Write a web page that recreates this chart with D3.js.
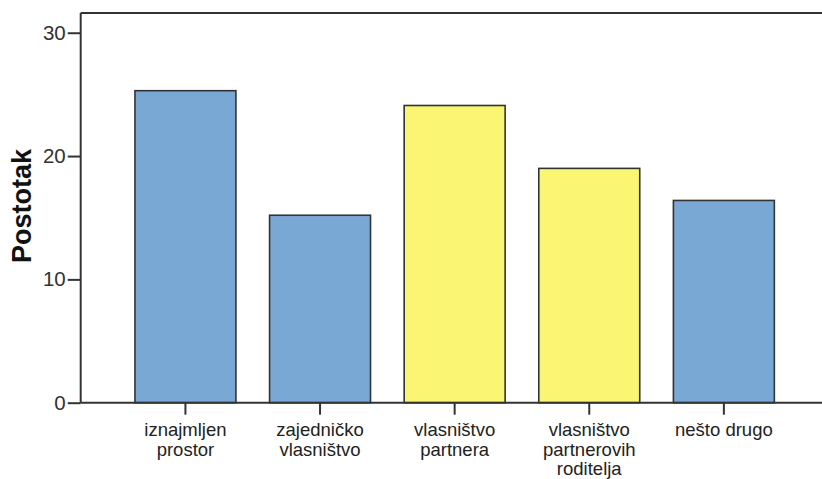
<!DOCTYPE html>
<html>
<head>
<meta charset="utf-8">
<script src="https://cdn.jsdelivr.net/npm/d3@7"></script>
<style>
  html, body { margin: 0; padding: 0; background: #ffffff; }
  svg { display: block; }
</style>
</head>
<body>
<svg id="chart" width="822" height="479"></svg>
<script>
// ---- data ----
const categories = [
  "iznajmljen\nprostor",
  "zajedničko\nvlasništvo",
  "vlasništvo\npartnera",
  "vlasništvo\npartnerovih\nroditelja",
  "nešto drugo"
];
const values = [25.3, 15.2, 24.1, 19.0, 16.4];
const barColors = ["#7aa8d4", "#7aa8d4", "#faf673", "#faf673", "#7aa8d4"];
const yTicks = [0, 10, 20, 30];
const yTitle = "Postotak";

// ---- layout ----
const svg = d3.select("#chart");
const plotLeft = 80.7, plotRight = 828.6, plotTop = 13, plotBottom = 402.7;

const x = d3.scaleBand()
  .domain(categories)
  .range([plotLeft, plotRight])
  .paddingInner(0.25)
  .paddingOuter(0.403);

const y = d3.scaleLinear()
  .domain([0, 31.6])
  .range([plotBottom, plotTop]);

// frame top line
svg.append("line")
  .attr("x1", plotLeft).attr("x2", 822)
  .attr("y1", plotTop).attr("y2", plotTop)
  .attr("stroke", "#333").attr("stroke-width", 2);

// bars
svg.append("g").selectAll("rect")
  .data(values)
  .join("rect")
  .attr("x", (d, i) => x(categories[i]))
  .attr("y", d => y(d))
  .attr("width", x.bandwidth())
  .attr("height", d => y(0) - y(d))
  .attr("fill", (d, i) => barColors[i])
  .attr("stroke", "#333")
  .attr("stroke-width", 1.6);

// y axis
const yAxis = svg.append("g")
  .attr("transform", `translate(${plotLeft},0)`)
  .call(d3.axisLeft(y).tickValues(yTicks).tickSize(13).tickPadding(2).tickFormat(d3.format("d")));
yAxis.select(".domain").remove();
yAxis.append("line")
  .attr("x1", 0).attr("x2", 0).attr("y1", plotTop).attr("y2", plotBottom)
  .attr("stroke", "#333").attr("stroke-width", 2);
yAxis.selectAll(".tick line").attr("stroke", "#333").attr("stroke-width", 2);
yAxis.selectAll(".tick text")
  .attr("fill", "#333")
  .style("font-family", "Arial, 'Liberation Sans', sans-serif")
  .style("font-size", "20.5px");

// x axis
const xAxis = svg.append("g")
  .attr("transform", `translate(0,${plotBottom})`)
  .call(d3.axisBottom(x).tickSize(12).tickFormat(""));
xAxis.select(".domain").remove();
xAxis.append("line")
  .attr("x1", plotLeft).attr("x2", 822).attr("y1", 0).attr("y2", 0)
  .attr("stroke", "#333").attr("stroke-width", 2);
xAxis.selectAll(".tick line").attr("stroke", "#333").attr("stroke-width", 2);

// x labels (multi-line)
xAxis.selectAll(".tick").each(function(d) {
  const t = d3.select(this).append("text")
    .attr("fill", "#222")
    .attr("text-anchor", "middle")
    .style("font-family", "Arial, 'Liberation Sans', sans-serif")
    .style("font-size", "18.5px");
  d.split("\n").forEach((line, i) => {
    t.append("tspan").attr("x", 0).attr("y", 33.5 + i * 19.5).text(line);
  });
});

// y title
svg.append("text")
  .attr("transform", `translate(31,206) rotate(-90)`)
  .attr("text-anchor", "middle")
  .attr("fill", "#111")
  .style("font-family", "Arial, 'Liberation Sans', sans-serif")
  .style("font-weight", "bold")
  .style("font-size", "27px")
  .text(yTitle);
</script>
</body>
</html>
